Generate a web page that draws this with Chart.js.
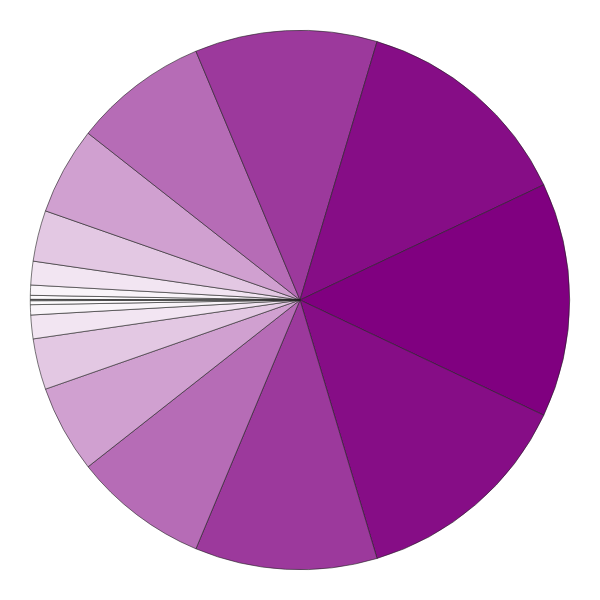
<!DOCTYPE html>
<html>
<head>
<meta charset="utf-8">
<script src="https://cdn.jsdelivr.net/npm/chart.js"></script>
<style>
  html, body { margin: 0; padding: 0; background: #fff; }
  #wrap { width: 600px; height: 600px; }
</style>
</head>
<body>
<div id="wrap"><canvas id="pie"></canvas></div>
<script>
// slice sizes (degrees), going clockwise from the left edge
const labels = ['s1','s2','s3','s4','s5','s6','s7','s8','s9','s10','s11','s12','s13','s14','s15','s16','s17','s18','s19'];
const values = [0.15, 0.85, 2.2, 5.1, 11.0, 18.9, 29.1, 39.3, 48.1, 50.6, 48.1, 39.3, 29.1, 18.9, 11.0, 5.1, 2.2, 0.85, 0.15];

// purple fading to white as the slice gets smaller
const maxVal = Math.max(...values);
const colors = values.map(v => {
    const t = 1 - v / maxVal;
    const r = Math.round(128 + 127 * t);
    const g = Math.round(255 * t);
    return `rgb(${r},${g},${r})`;
});

const ctx = document.getElementById('pie').getContext('2d');
new Chart(ctx, {
    type: 'pie',
    data: {
        labels: labels,
        datasets: [{
            data: values,
            backgroundColor: colors,
            borderColor: '#222',
            borderWidth: 0.6
        }]
    },
    options: {
        responsive: true,
        maintainAspectRatio: false,
        animation: false,
        rotation: -90,
        layout: { padding: 30 },
        plugins: {
            legend: { display: false },
            tooltip: { enabled: false }
        }
    }
});
</script>
</body>
</html>
